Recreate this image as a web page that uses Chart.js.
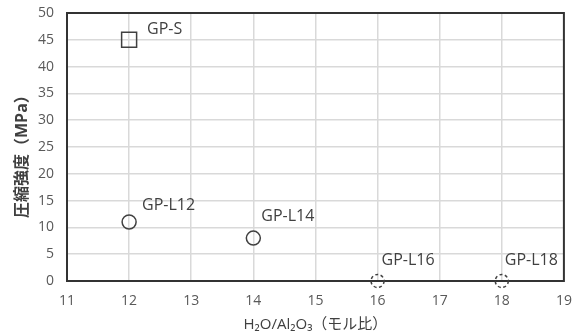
<!DOCTYPE html>
<html><head><meta charset="utf-8">
<script src="https://cdn.jsdelivr.net/npm/chart.js@4/dist/chart.umd.min.js"></script>
<style>html,body{margin:0;padding:0;background:#fff}#wrap{width:576px;height:333px}</style>
</head><body><div id="wrap"><canvas id="c" width="576" height="333"></canvas></div>
<script>
const names = ['GP-S','GP-L12','GP-L14','GP-L16','GP-L18'];
const xVals = [12, 12, 14, 16, 18];
const yVals = [45, 11, 8, 0, 0];
const solidIdx = [0, 1, 2];
const dashedIdx = [3, 4];
const xTitle = 'H₂O/Al₂O₃（モル比）';
const yTitle = '圧縮強度（MPa）';

const labelOffsets = [[18,-10],[13,-17],[8,-22],[4,-21],[3,-21]];
const pts = idx => idx.map(i => ({x: xVals[i], y: yVals[i], n: names[i], k: i}));
const FONT = "'Open Sans','Noto Sans CJK JP',sans-serif";

const deco = {
  id: 'deco',
  beforeDatasetsDraw(chart) {
    const {ctx, chartArea: a} = chart;
    ctx.save();
    ctx.strokeStyle = '#333';
    ctx.lineWidth = 2;
    ctx.strokeRect(a.left, a.top, a.right - a.left, a.bottom - a.top);
    ctx.restore();
  },
  beforeDatasetDraw(chart, args) {
    if (args.index === 1) chart.ctx.setLineDash([3, 2.5]);
  },
  afterDatasetDraw(chart, args) {
    chart.ctx.setLineDash([]);
  },
  afterDatasetsDraw(chart) {
    const {ctx} = chart;
    ctx.save();
    ctx.fillStyle = '#404040';
    ctx.font = '16px ' + FONT;
    ctx.textBaseline = 'middle';
    ctx.textAlign = 'left';
    chart.data.datasets.forEach((ds, di) => {
      const meta = chart.getDatasetMeta(di);
      ds.data.forEach((p, j) => {
        const el = meta.data[j];
        const o = labelOffsets[p.k];
        ctx.fillText(p.n, el.x + o[0], el.y + o[1]);
      });
    });
    // y title
    ctx.save();
    ctx.translate(22, 218);
    ctx.rotate(-Math.PI / 2);
    ctx.font = 'bold 16px ' + FONT;
    ctx.fillStyle = '#404040';
    ctx.textAlign = 'left';
    ctx.fillText(yTitle, 0, 0);
    ctx.restore();
    // x title
    const a = chart.chartArea;
    ctx.font = '15px ' + FONT;
    ctx.fillStyle = '#404040';
    ctx.textAlign = 'center';
    ctx.fillText(xTitle, (a.left + a.right) / 2, 325);
    ctx.restore();
  }
};

new Chart(document.getElementById('c'), {
  type: 'scatter',
  data: {
    datasets: [
      {
        data: pts(solidIdx),
        pointStyle: ['rect', 'circle', 'circle'],
        pointRadius: [10.6, 7, 7],
        pointHoverRadius: [10.6, 7, 7],
        pointBorderColor: '#404040',
        pointBackgroundColor: 'rgba(0,0,0,0)',
        pointBorderWidth: 1.5,
        clip: false
      },
      {
        data: pts(dashedIdx),
        pointStyle: 'circle',
        pointRadius: 6.5,
        pointHoverRadius: 6.5,
        pointBorderColor: '#404040',
        pointBackgroundColor: 'rgba(0,0,0,0)',
        pointBorderWidth: 1.5,
        clip: false
      }
    ]
  },
  options: {
    responsive: false,
    animation: false,
    events: [],
    layout: {padding: {left: 0, right: 8, top: 13, bottom: 0}},
    plugins: {legend: {display: false}, tooltip: {enabled: false}},
    scales: {
      x: {
        type: 'linear', min: 11, max: 19,
        ticks: {stepSize: 1, color: '#595959', font: {family: FONT, size: 14}, padding: 12},
        grid: {color: '#d9d9d9', lineWidth: 1.5, drawTicks: false},
        border: {display: false},
        afterFit(s) { s.height = 52; s.paddingLeft = 0; s.paddingRight = 0; }
      },
      y: {
        type: 'linear', min: 0, max: 50,
        ticks: {stepSize: 5, color: '#595959', font: {family: FONT, size: 14}, padding: 13},
        grid: {color: '#d9d9d9', lineWidth: 1.5, drawTicks: false},
        border: {display: false},
        afterFit(s) { s.width = 67; s.paddingTop = 0; s.paddingBottom = 0; }
      }
    }
  },
  plugins: [deco]
});
</script></body></html>
